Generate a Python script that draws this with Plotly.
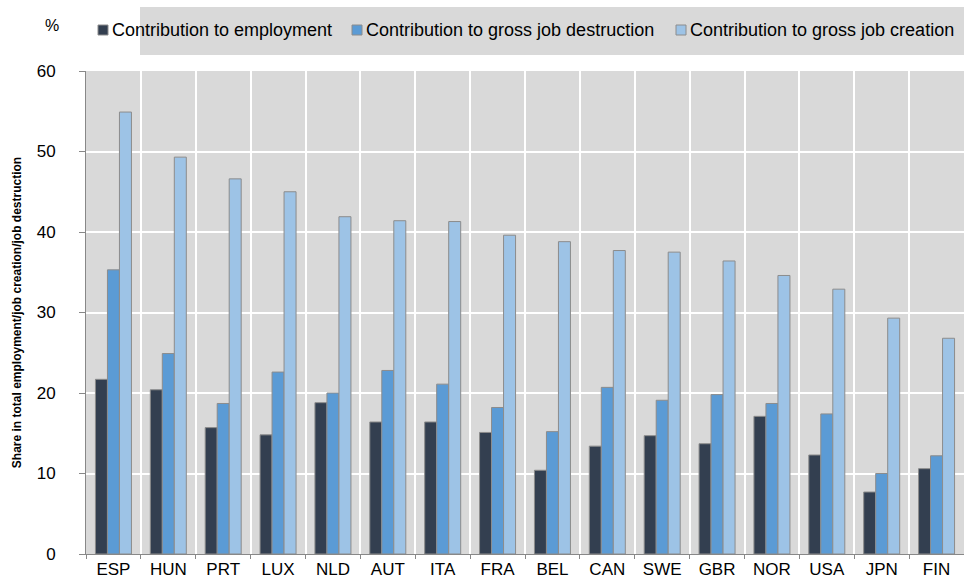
import plotly.graph_objects as go

countries = ["ESP", "HUN", "PRT", "LUX", "NLD", "AUT", "ITA", "FRA", "BEL", "CAN",
             "SWE", "GBR", "NOR", "USA", "JPN", "FIN"]
employment = [21.7, 20.4, 15.7, 14.8, 18.8, 16.4, 16.4, 15.1, 10.4, 13.4,
              14.7, 13.7, 17.1, 12.3, 7.7, 10.6]
destruction = [35.3, 24.9, 18.7, 22.6, 20.0, 22.8, 21.1, 18.2, 15.2, 20.7,
               19.1, 19.8, 18.7, 17.4, 10.0, 12.2]
creation = [54.9, 49.3, 46.6, 45.0, 41.9, 41.4, 41.3, 39.6, 38.8, 37.7,
            37.5, 36.4, 34.6, 32.9, 29.3, 26.8]

series_names = ["Contribution to employment",
                "Contribution to gross job destruction",
                "Contribution to gross job creation"]
series_values = [employment, destruction, creation]
series_colors = ["#333f50", "#5b9bd5", "#9dc3e6"]

font_family = "Liberation Sans, Arial, sans-serif"

# plot-area geometry in pixels (for placing the hand-drawn legend)
L, R, T, B = 86, 964, 71, 554
PW, PH = R - L, B - T


def px_x(px):
    return (px - L) / PW


def px_y(py):
    return 1 + (T - py) / PH


fig = go.Figure()
for name, vals, col in zip(series_names, series_values, series_colors):
    fig.add_trace(go.Bar(
        x=countries, y=vals, name=name, showlegend=False,
        marker=dict(color=col, line=dict(color="#8c8c8c", width=1)),
    ))

shapes = [dict(
    type="rect", xref="paper", yref="paper",
    x0=px_x(140), x1=1.0, y0=px_y(55), y1=px_y(7),
    fillcolor="#d9d9d9", line=dict(width=0), layer="below",
)]
annotations = [dict(
    text="%", xref="paper", yref="paper",
    x=px_x(52), y=px_y(26), xanchor="center", yanchor="middle",
    showarrow=False, font=dict(size=16),
)]

legend_sq_x = [98, 352, 676]
for name, col, sx in zip(series_names, series_colors, legend_sq_x):
    shapes.append(dict(
        type="rect", xref="paper", yref="paper",
        x0=px_x(sx), x1=px_x(sx + 10), y0=px_y(35), y1=px_y(25),
        fillcolor=col, line=dict(color="#8c8c8c", width=1), layer="above",
    ))
    annotations.append(dict(
        text=name, xref="paper", yref="paper",
        x=px_x(sx + 12), y=px_y(30), xanchor="left", yanchor="middle",
        showarrow=False, font=dict(size=18, family=font_family),
    ))

fig.update_layout(
    width=964, height=582,
    margin=dict(l=L, r=964 - R, t=T, b=582 - B),
    paper_bgcolor="white",
    plot_bgcolor="#d9d9d9",
    barmode="group",
    bargap=0.344,
    bargroupgap=0,
    font=dict(family=font_family, size=17, color="black"),
    showlegend=False,
    xaxis=dict(
        type="category",
        tickson="boundaries",
        showgrid=True, gridcolor="white", gridwidth=1.5,
        ticks="outside", ticklen=4, tickcolor="#888888",
        showline=True, linecolor="#888888",
        tickfont=dict(size=17),
        range=[-0.5, 15.5],
    ),
    yaxis=dict(
        range=[0, 60], dtick=10,
        showgrid=True, gridcolor="white", gridwidth=1.5,
        ticks="outside", ticklen=6, tickcolor="#888888",
        showline=True, linecolor="#888888",
        tickfont=dict(size=17),
        ticklabelstandoff=20,
        zeroline=False,
        title=dict(text="<b>Share in total employment/job creation/job destruction</b>",
                   font=dict(size=12, family=font_family),
                   standoff=12),
    ),
    shapes=shapes,
    annotations=annotations,
)

fig.write_html("out.html",
               config={"displayModeBar": False},
               post_script="document.body.style.margin='0';document.body.style.overflow='hidden';")
